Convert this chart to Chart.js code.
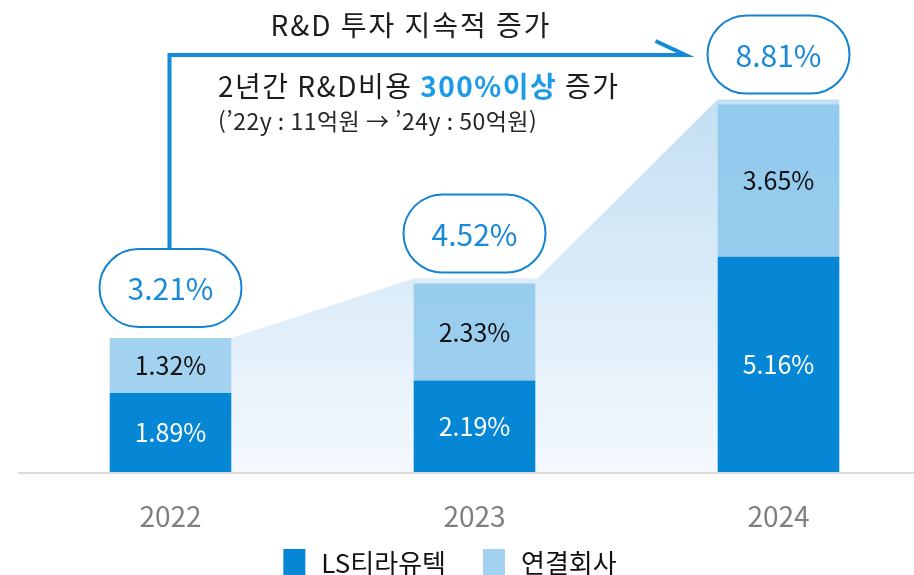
<!DOCTYPE html>
<html lang="ko">
<head>
<meta charset="utf-8">
<title>R&D 투자</title>
<script src="https://cdn.jsdelivr.net/npm/chart.js@4.4.1/dist/chart.umd.min.js"></script>
<style>
    html, body { margin: 0; padding: 0; background: #ffffff; }
    #wrap { width: 914px; height: 575px; }
</style>
</head>
<body>
<div id="wrap"><canvas id="rdChart" width="914" height="575"></canvas></div>
<script>
const years = ["2022", "2023", "2024"];
const lsValues = [1.89, 2.19, 5.16];         // LS티라유텍
const affiliateValues = [1.32, 2.33, 3.65];  // 연결회사
const seriesNames = ["LS티라유텍", "연결회사"];

const headline = "R&D 투자 지속적 증가";
const subPrefix = "2년간 R&D비용 ";
const subHighlight = "300%이상";
const subSuffix = " 증가";
const subNote = "(’22y : 11억원 → ’24y : 50억원)";

const FONT = "'Noto Sans CJK KR', 'Noto Sans', sans-serif";
const DARK_BLUE = "#0587d6";
const LIGHT_BLUE = "rgba(125, 191, 234, 0.71)";
const LINE_BLUE = "#128ad9";

const pct = v => `${v.toFixed(2)}%`;

// light blue band that climbs behind the bars
const bandPlugin = {
    id: "band",
    beforeDatasetsDraw(chart) {
        const ctx = chart.ctx;
        const bars = chart.getDatasetMeta(1).data;
        const base = chart.scales.y.getPixelForValue(0);
        const half = bars[0].width / 2;
        const top0 = bars[0].y, top1 = bars[1].y - 5, top2 = bars[2].y - 5;

        const grad = ctx.createLinearGradient(0, top2, 0, base);
        grad.addColorStop(0, "#c3dff3");
        grad.addColorStop(1, "#f4f9fd");

        ctx.save();
        ctx.beginPath();
        ctx.moveTo(bars[0].x + half, top0);
        ctx.lineTo(bars[1].x - half, top1);
        ctx.lineTo(bars[1].x + half + 2, top1);
        ctx.lineTo(bars[2].x - half, top2);
        ctx.lineTo(bars[2].x + half, top2);
        ctx.lineTo(bars[2].x + half, base);
        ctx.lineTo(bars[0].x + half, base);
        ctx.closePath();
        ctx.fillStyle = grad;
        ctx.fill();
        ctx.restore();
    }
};

// value labels, total pills, headline texts and the arrow
const annotatePlugin = {
    id: "annotate",
    afterDatasetsDraw(chart) {
        const ctx = chart.ctx;
        const darkBars = chart.getDatasetMeta(0).data;
        const lightBars = chart.getDatasetMeta(1).data;
        const base = chart.scales.y.getPixelForValue(0);

        ctx.save();
        // baseline across the whole width
        ctx.beginPath();
        ctx.moveTo(18, base + 1);
        ctx.lineTo(chart.width, base + 1);
        ctx.lineWidth = 2;
        ctx.strokeStyle = "#dcdcdc";
        ctx.stroke();

        ctx.textAlign = "center";
        ctx.textBaseline = "middle";
        ctx.font = `25px ${FONT}`;
        darkBars.forEach((bar, i) => {
            ctx.fillStyle = "#ffffff";
            ctx.fillText(pct(lsValues[i]), bar.x, (bar.y + bar.base) / 2);
        });
        lightBars.forEach((bar, i) => {
            ctx.fillStyle = "#111111";
            ctx.fillText(pct(affiliateValues[i]), bar.x, (bar.y + bar.base) / 2);
        });

        // total pills
        const pillW = 142, pillH = 78;
        const pills = lightBars.map((bar, i) => {
            const bottom = bar.y - 11;
            return { x: bar.x, top: bottom - pillH, total: lsValues[i] + affiliateValues[i] };
        });
        pills.forEach(p => {
            ctx.beginPath();
            ctx.roundRect(p.x - pillW / 2, p.top, pillW, pillH, pillH / 2);
            ctx.fillStyle = "#ffffff";
            ctx.fill();
            ctx.lineWidth = 2;
            ctx.strokeStyle = "#1583d3";
            ctx.stroke();
            ctx.font = `30px ${FONT}`;
            ctx.fillStyle = "#1a89d8";
            ctx.fillText(pct(p.total), p.x, p.top + pillH / 2 + 1);
        });

        // arrow from first pill up and across to the last pill
        const lineY = chart.chartArea.top;
        const endX = pills[2].x - pillW / 2 - 22;
        ctx.beginPath();
        ctx.moveTo(pills[0].x - 1, pills[0].top);
        ctx.lineTo(pills[0].x - 1, lineY);
        ctx.lineTo(endX, lineY);
        ctx.lineTo(endX - 30, lineY - 14);
        ctx.lineWidth = 4;
        ctx.lineJoin = "miter";
        ctx.strokeStyle = LINE_BLUE;
        ctx.stroke();

        // headline texts
        ctx.textAlign = "center";
        ctx.fillStyle = "#1c1c1c";
        ctx.font = `28px ${FONT}`;
        ctx.letterSpacing = "2px";
        ctx.fillText(headline, 411, 25);

        ctx.textAlign = "left";
        ctx.letterSpacing = "1.5px";
        let x = 218;
        ctx.fillText(subPrefix, x, 86);
        x += ctx.measureText(subPrefix).width;
        ctx.font = `bold 28px ${FONT}`;
        ctx.fillStyle = "#1d9bea";
        ctx.fillText(subHighlight, x, 86);
        x += ctx.measureText(subHighlight).width;
        ctx.font = `28px ${FONT}`;
        ctx.fillStyle = "#1c1c1c";
        ctx.fillText(subSuffix, x, 86);

        ctx.letterSpacing = "0.5px";
        ctx.font = `23px ${FONT}`;
        ctx.fillStyle = "#262626";
        ctx.fillText(subNote, 218, 121);
        ctx.restore();
    },
    afterDraw(chart) {
        // legend, centred a bit left of the plot centre like the original
        const ctx = chart.ctx;
        const items = chart.data.datasets.map(ds => ({ text: ds.label, color: ds.backgroundColor }));
        const box = 22, gap = 16, spacing = 37;
        ctx.save();
        ctx.font = `26px ${FONT}`;
        const widths = items.map(it => box + gap + ctx.measureText(it.text).width);
        const total = widths.reduce((a, b) => a + b, 0) + spacing * (items.length - 1);
        let x = 450 - total / 2;
        ctx.textAlign = "left";
        ctx.textBaseline = "middle";
        items.forEach((it, i) => {
            ctx.fillStyle = "#ffffff";
            ctx.fillRect(x, 549, box, 26);
            ctx.fillStyle = it.color;
            ctx.fillRect(x, 549, box, 26);
            ctx.fillStyle = "#111111";
            ctx.fillText(it.text, x + box + gap, 563);
            x += widths[i] + spacing;
        });
        ctx.restore();
    }
};

new Chart(document.getElementById("rdChart"), {
    type: "bar",
    data: {
        labels: years,
        datasets: [
            {
                label: seriesNames[0],
                data: lsValues,
                backgroundColor: DARK_BLUE,
                borderWidth: 0,
                clip: false
            },
            {
                label: seriesNames[1],
                data: affiliateValues,
                backgroundColor: LIGHT_BLUE,
                borderWidth: 0,
                clip: false
            }
        ]
    },
    options: {
        responsive: false,
        devicePixelRatio: 1,
        animation: false,
        barPercentage: 0.4,
        categoryPercentage: 1,
        layout: { padding: { top: 55, left: 170.5, right: 135.5, bottom: 13.5 } },
        plugins: {
            legend: { display: false },
            tooltip: { enabled: false }
        },
        scales: {
            x: {
                stacked: true,
                offset: false,
                grid: { display: false, drawTicks: false },
                border: { display: false },
                ticks: { color: "#808080", padding: 28, font: { family: FONT, size: 28 } }
            },
            y: {
                stacked: true,
                display: false,
                min: 0,
                max: 10
            }
        }
    },
    plugins: [bandPlugin, annotatePlugin]
});
</script>
</body>
</html>
